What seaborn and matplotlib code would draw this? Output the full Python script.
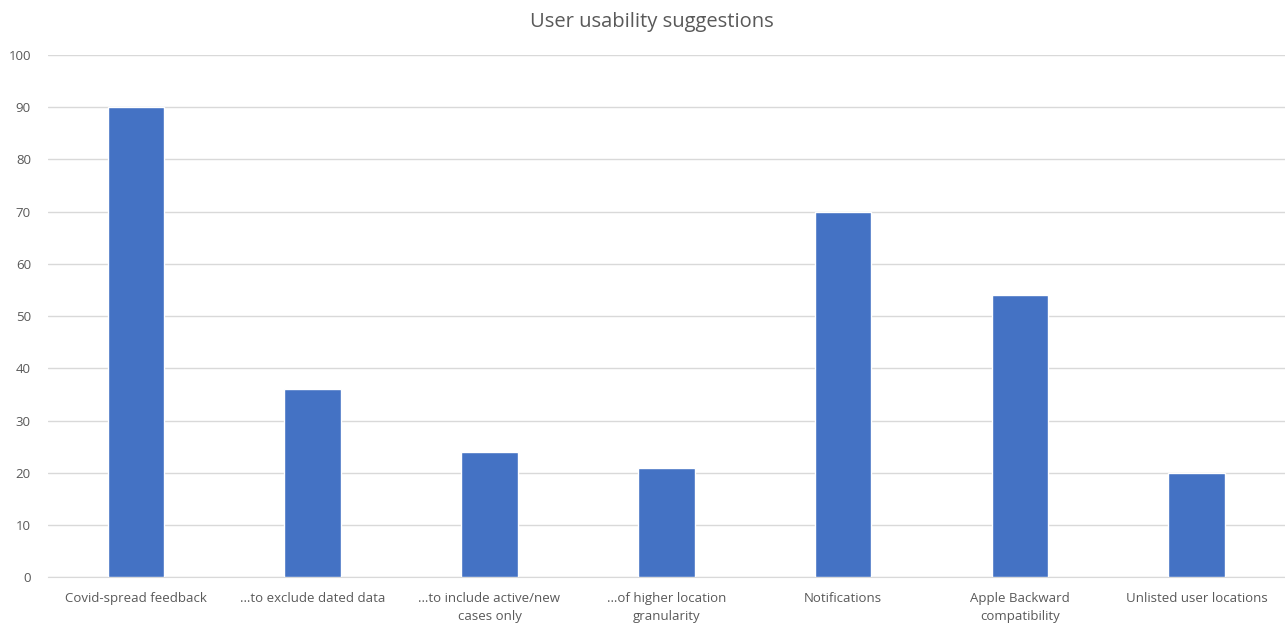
import matplotlib
matplotlib.use("Agg")
import matplotlib.pyplot as plt
import seaborn as sns
import pandas as pd

categories = ["Covid-spread feedback",
              "\u2026to exclude dated data",
              "\u2026to include active/new\ncases only",
              "\u2026of higher location\ngranularity",
              "Notifications",
              "Apple Backward\ncompatibility",
              "Unlisted user locations"]
counts = [90, 36, 24, 21, 70, 54, 20]

df = pd.DataFrame({"Suggestion": categories, "Count": counts})

sns.set_style("white")
plt.rcParams["font.family"] = ["Open Sans", "DejaVu Sans"]

fig = plt.figure(figsize=(12.85, 6.24), dpi=100)
ax = fig.add_axes([0.037, 0.075, 0.963, 0.837])

sns.barplot(data=df, x="Suggestion", y="Count", color="#4472C4",
            width=0.32, saturation=1, ax=ax, zorder=3)

ax.set_ylim(0, 100)
ax.set_xlim(-0.5, 6.5)
ax.set_yticks(range(0, 101, 10))
ax.yaxis.grid(True, color="#D9D9D9", linewidth=1, zorder=0)
ax.set_axisbelow(True)
for s in ["top", "right", "left"]:
    ax.spines[s].set_visible(False)
ax.spines["bottom"].set_color("#D9D9D9")
ax.tick_params(axis="both", length=0, labelsize=9.5, colors="#595959")
ax.tick_params(axis="y", pad=12)
ax.tick_params(axis="x", pad=11)
for lbl in ax.get_xticklabels():
    lbl.set_linespacing(1.45)
ax.set_xlabel("")
ax.set_ylabel("")
fig.text(0.507, 0.965, "User usability suggestions", fontsize=14.5,
         color="#595959", ha="center", va="center")

fig.savefig("out.png", dpi=100)
